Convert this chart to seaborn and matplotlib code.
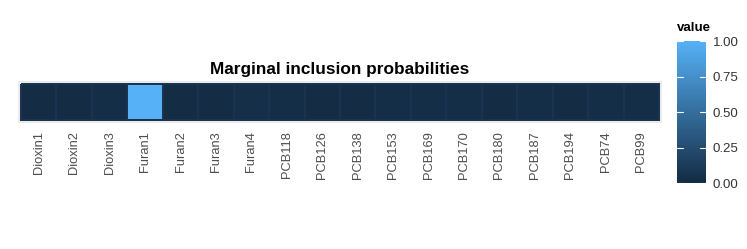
import numpy as np
import pandas as pd
import matplotlib
matplotlib.use("Agg")
import matplotlib.pyplot as plt
import seaborn as sns
from matplotlib.colors import LinearSegmentedColormap

# marginal inclusion probability per exposure
exposures = ["Dioxin1", "Dioxin2", "Dioxin3", "Furan1", "Furan2", "Furan3", "Furan4",
             "PCB118", "PCB126", "PCB138", "PCB153", "PCB169", "PCB170", "PCB180",
             "PCB187", "PCB194", "PCB74", "PCB99"]
probs = [0.01, 0.01, 0.02, 1.00, 0.01, 0.01, 0.03,
         0.02, 0.01, 0.01, 0.02, 0.02, 0.02, 0.01,
         0.02, 0.01, 0.02, 0.02]

df = pd.DataFrame([probs], columns=exposures, index=[""])

sns.set_style("white")
plt.rcParams["font.family"] = ["Liberation Sans", "DejaVu Sans"]

cmap = LinearSegmentedColormap.from_list("gg", ["#132B43", "#56B1F7"])

fig = plt.figure(figsize=(7.47, 2.49), dpi=100)
ax = fig.add_axes([18 / 747, 1 - 123 / 249, (662 - 18) / 747, 42 / 249])
cax = fig.add_axes([677 / 747, 1 - 183 / 249, 29 / 747, 142 / 249])

sns.heatmap(df, ax=ax, cbar_ax=cax, cmap=cmap, vmin=0, vmax=1,
            linewidths=0.2, linecolor="#1b3350")
ax.set_facecolor("#EBEBEB")
ax.set_xlim(-0.085, len(exposures) + 0.085)
ax.set_ylim(1.083, -0.083)
ax.set_title("Marginal inclusion probabilities", fontsize=12.4, fontweight="bold",
             color="black", pad=5)
ax.set_xticklabels(exposures, rotation=90, fontsize=9.3, color="#4D4D4D")
ax.set_yticks([])
ax.tick_params(axis="x", length=0, pad=6)
ax.set_xlabel("")
ax.set_ylabel("")

cax.set_yticks([0, 0.25, 0.5, 0.75, 1.0])
cax.set_yticklabels(["0.00", "0.25", "0.50", "0.75", "1.00"], fontsize=9.5, color="#333333")
cax.tick_params(axis="y", length=0, pad=5)
for t in [0, 0.25, 0.5, 0.75, 1.0]:
    cax.plot([0, 0.2], [t, t], color="white", lw=0.8)
    cax.plot([0.8, 1], [t, t], color="white", lw=0.8)
cax.set_xlim(0, 1)
cax.set_title("value", fontsize=9.5, fontweight="bold", color="black", loc="left", pad=7)
for s in cax.spines.values():
    s.set_visible(False)

fig.savefig("out.png", dpi=100)
